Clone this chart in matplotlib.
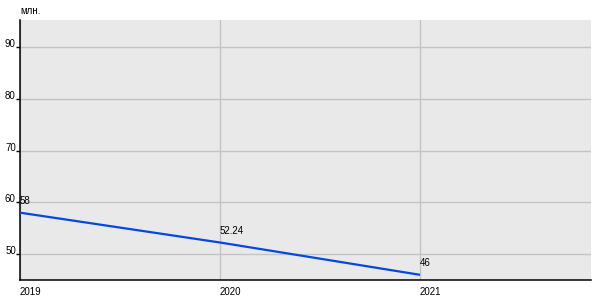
import numpy as np, matplotlib
matplotlib.use("Agg")
import matplotlib.pyplot as plt

plt.rcParams["font.family"] = ["Liberation Sans", "DejaVu Sans"]

years = [2019, 2020, 2021]
values = [58, 52.24, 46]
labels = ["58", "52.24", "46"]
yticks = [50, 60, 70, 80, 90]

fig = plt.figure(figsize=(6, 3), dpi=100)
ax = fig.add_axes([20/600, 20/300, 571/600, 260/300])
ax.set_facecolor("#e9e9e9")
ax.plot(years, values, color="#0547e0", lw=1.6, solid_capstyle="butt", zorder=3)
for x, y, t in zip(years, values, labels):
    ax.annotate(t, (x, y), xytext=(0, 5), textcoords="offset points",
                fontsize=7, ha="left", va="bottom", zorder=4)

ax.set_xlim(2019, 2021.855)
ax.set_ylim(45, 95.2)
ax.set_xticks(years)
ax.set_xticklabels([str(y) for y in years], ha="left")
ax.set_yticks(yticks)
ax.tick_params(axis="x", length=0, pad=5, labelsize=7)
ax.tick_params(axis="y", length=3, width=1, pad=0, labelsize=7)
for lab in ax.get_yticklabels():
    lab.set_verticalalignment("baseline")
ax.grid(True, color="#c4c4c4", lw=1)
ax.set_axisbelow(True)
for s in ["top", "right"]:
    ax.spines[s].set_visible(False)
for s in ["left", "bottom"]:
    ax.spines[s].set_linewidth(1.1)
    ax.spines[s].set_color("black")
fig.text(20/600, 1 - 11/300, "млн.", fontsize=7, ha="left", va="center")

fig.savefig("out.png", dpi=100)
